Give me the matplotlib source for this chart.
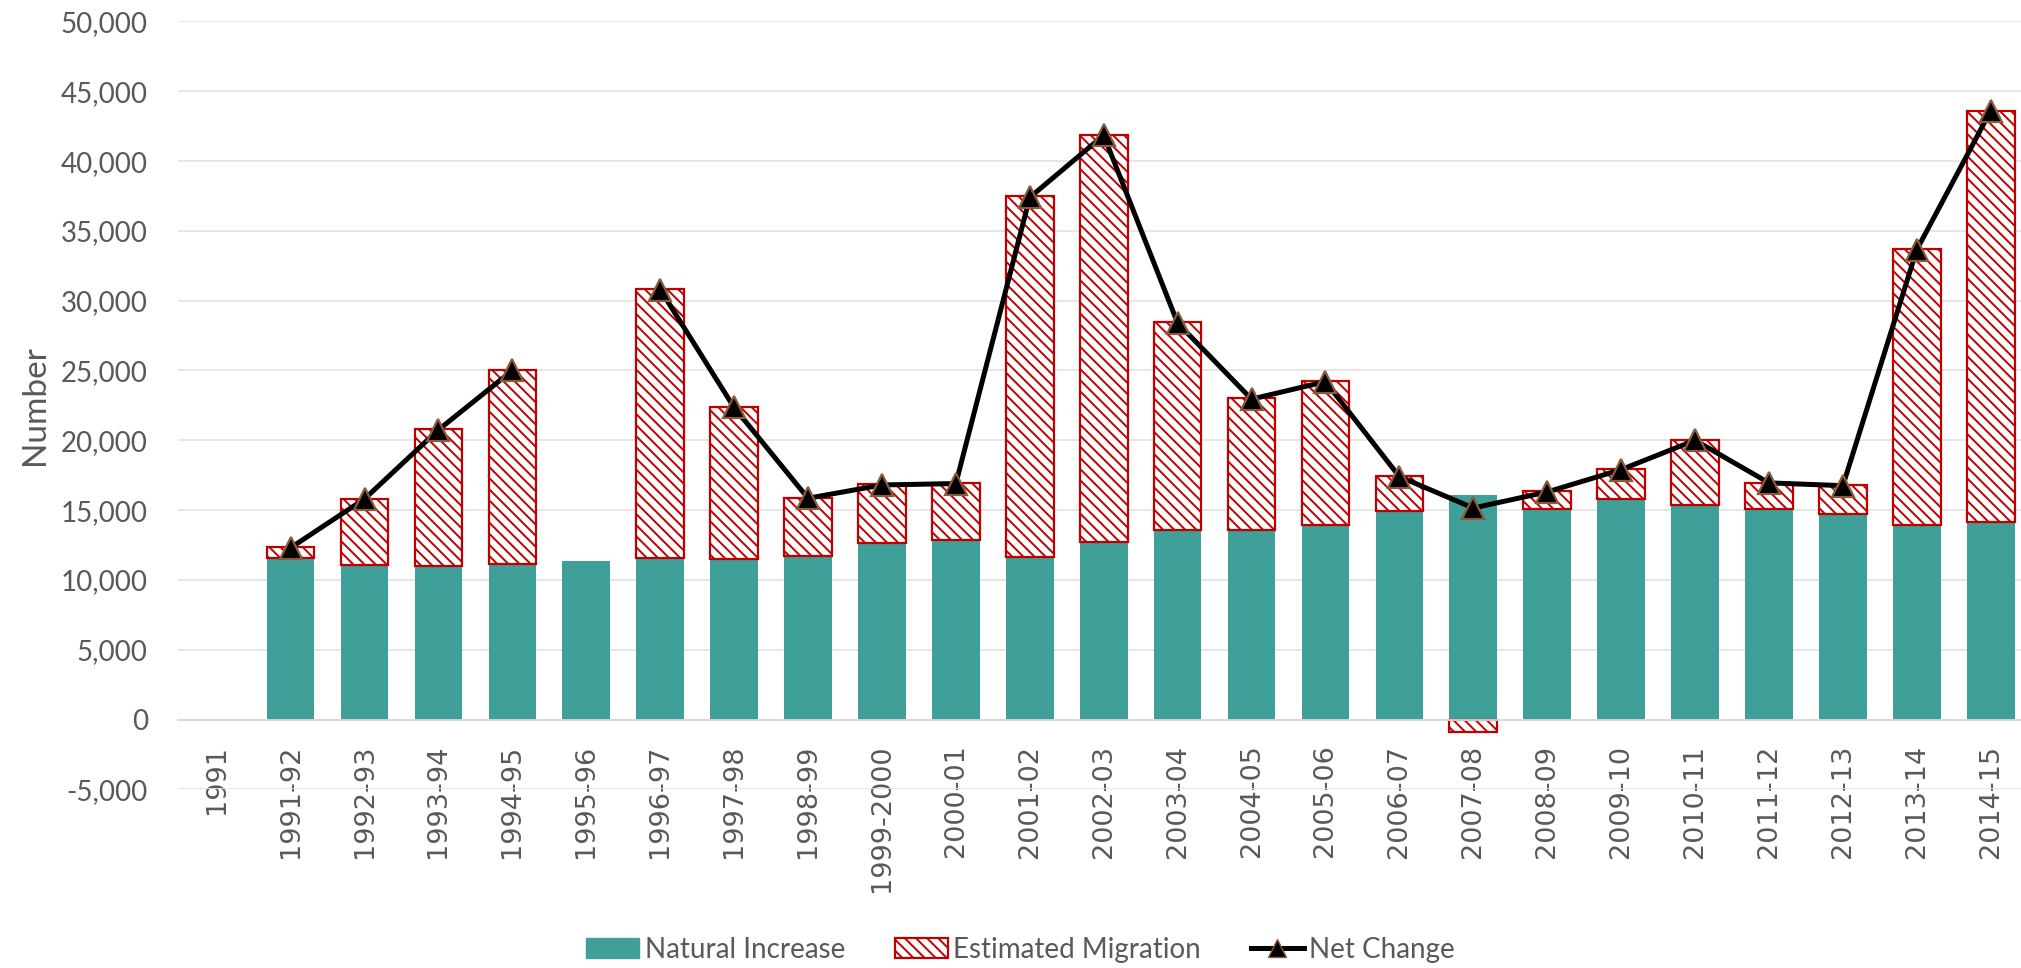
"""
Population change by year: natural increase and estimated migration as
stacked bars, net change as a line with triangle markers.
"""

import numpy as np
import matplotlib.pyplot as plt
from matplotlib.lines import Line2D
from matplotlib.patches import Patch
from matplotlib.ticker import FuncFormatter

YEARS = [
    "1991", "1991-92", "1992-93", "1993-94", "1994-95", "1995-96", "1996-97",
    "1997-98", "1998-99", "1999-2000", "2000-01", "2001-02", "2002-03",
    "2003-04", "2004-05", "2005-06", "2006-07", "2007-08", "2008-09",
    "2009-10", "2010-11", "2011-12", "2012-13", "2013-14", "2014-15",
]
NATURAL_INCREASE = [
    np.nan, 11550, 11100, 11000, 11150, 11350, 11600, 11500, 11700, 12650,
    12850, 11650, 12700, 13550, 13550, 13900, 14950, 16100, 15100, 15800,
    15400, 15100, 14700, 13950, 14150,
]
ESTIMATED_MIGRATION = [
    np.nan, 800, 4700, 9800, 13850, np.nan, 19250, 10900, 4200, 4200,
    4100, 25850, 29150, 14900, 9450, 10350, 2500, -900, 1250, 2150,
    4650, 1850, 2100, 19750, 29450,
]
NET_CHANGE = [
    np.nan, 12300, 15800, 20750, 25000, np.nan, 30800, 22350, 15850, 16800,
    16900, 37400, 41850, 28400, 22950, 24200, 17400, 15150, 16300, 17900,
    20000, 16950, 16750, 33650, 43600,
]

TEAL = "#3F9F99"
RED = "#C00000"
TEXT = "#595959"
GRID = "#E4E4E4"
MARKER_EDGE = "#8A5A3C"
HATCH = "\\\\\\"

plt.rcParams["font.family"] = ["Lato", "DejaVu Sans"]
plt.rcParams["hatch.linewidth"] = 1.4

x = np.arange(len(YEARS))
natural = np.array(NATURAL_INCREASE, dtype=float)
migration = np.array(ESTIMATED_MIGRATION, dtype=float)
net = np.array(NET_CHANGE, dtype=float)
# negative migration stacks down from zero, positive on top of natural increase
mig_bottom = np.where(migration < 0, 0.0, natural)

fig = plt.figure(figsize=(20.21, 9.68), dpi=100)
ax = fig.add_axes([0.0879, 0.1846, 0.9121, 0.7932])

width = 0.645
ax.bar(x, natural, width=width, color=TEAL, zorder=2)
ax.bar(x, migration, width=width, bottom=mig_bottom, facecolor="white",
       edgecolor=RED, hatch=HATCH, linewidth=1.6, zorder=2)
ax.plot(x, net, color="black", linewidth=3.6, marker="^", markersize=16,
        markerfacecolor="black", markeredgecolor=MARKER_EDGE,
        markeredgewidth=1.6, zorder=3)

ax.set_xlim(-0.528, 24.41)
ax.set_ylim(-5000, 50000)
ax.set_yticks(np.arange(-5000, 50001, 5000))
ax.yaxis.set_major_formatter(FuncFormatter(lambda v, _: f"{v:,.0f}"))
ax.grid(axis="y", color=GRID, linewidth=1.3)
ax.set_axisbelow(True)

for side in ("top", "right", "left"):
    ax.spines[side].set_visible(False)
ax.spines["bottom"].set_position(("data", 0))
ax.spines["bottom"].set_color("#D9D9D9")
ax.spines["bottom"].set_linewidth(1.3)

ax.set_xticks(x)
ax.set_xticklabels(YEARS, rotation=90, fontsize=19.5, color=TEXT,
                   family="DejaVu Sans")
ax.tick_params(axis="x", length=0, pad=18)
ax.tick_params(axis="y", length=0, pad=21.5, labelsize=20, labelcolor=TEXT)
ax.set_ylabel("Number", fontsize=24, color=TEXT, labelpad=7.5)

handles = [
    Patch(facecolor=TEAL, edgecolor=TEAL, label="Natural Increase"),
    Patch(facecolor="white", edgecolor=RED, hatch=HATCH, linewidth=1.6,
          label="Estimated Migration"),
    Line2D([0], [0], color="black", linewidth=3.6, marker="^", markersize=13,
           markerfacecolor="black", markeredgecolor=MARKER_EDGE,
           label="Net Change"),
]
fig.legend(handles=handles, loc="center", bbox_to_anchor=(0.505, 0.019),
           ncol=3, frameon=False, fontsize=20, labelcolor=TEXT,
           handlelength=1.9, handletextpad=0.2, columnspacing=1.8,
           handleheight=0.75)

fig.savefig("out.png", dpi=100)
